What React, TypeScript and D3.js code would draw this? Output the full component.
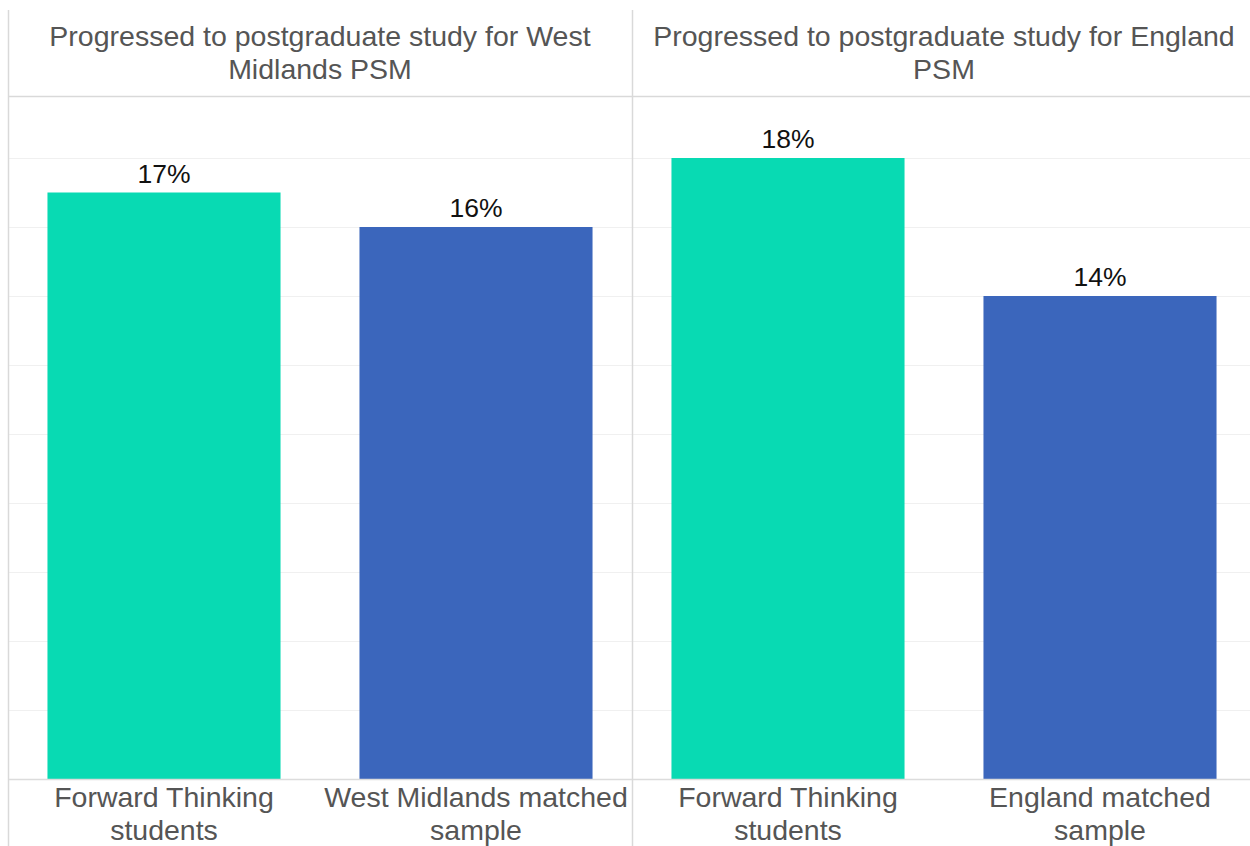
import React from "react";
import * as d3 from "d3";

const panelTitles: string[][] = [
  ["Progressed to postgraduate study for West", "Midlands PSM"],
  ["Progressed to postgraduate study for England", "PSM"],
];
const panelCategories: string[][] = [
  ["Forward Thinking students", "West Midlands matched sample"],
  ["Forward Thinking students", "England matched sample"],
];
const categoryLabelLines: string[][][] = [
  [["Forward Thinking", "students"], ["West Midlands matched", "sample"]],
  [["Forward Thinking", "students"], ["England matched", "sample"]],
];
const panelValues: number[][] = [
  [17, 16],
  [18, 14],
];
const gridTicks: number[] = [2, 4, 6, 8, 10, 12, 14, 16, 18];
const barColors: string[] = ["#08DAB3", "#3B66BC"];

const W = 1250;
const H = 846;
const FONT = "'Liberation Sans', Arial, sans-serif";

export default function App() {
  const left = 8;
  const panelW = 624;
  const headerBottom = 96;
  const baseY = 779;
  const y = d3.scaleLinear().domain([0, 20]).range([baseY, baseY - 690]);

  return (
    <svg
      width={W}
      height={H}
      style={{ position: "absolute", left: 0, top: 0, background: "#fff" }}
      fontFamily={FONT}
    >
      {gridTicks.map((t) => (
        <line
          key={t}
          x1={left}
          x2={W}
          y1={Math.round(y(t)) + 0.5}
          y2={Math.round(y(t)) + 0.5}
          stroke="#f0f0f0"
          strokeWidth={1}
        />
      ))}
      {panelValues.map((vals, pi) => {
        const x0 = left + pi * panelW;
        const x = d3
          .scaleBand<string>()
          .domain(panelCategories[pi])
          .range([x0, x0 + panelW])
          .paddingInner(0.253)
          .paddingOuter(0.1265);
        const cx = x0 + panelW / 2;
        return (
          <g key={pi}>
            {panelTitles[pi].map((line, li) => (
              <text
                key={li}
                x={cx}
                y={46 + li * 33}
                textAnchor="middle"
                fontSize={28.5}
                fill="#555"
              >
                {line}
              </text>
            ))}
            {vals.map((v, i) => {
              const cat = panelCategories[pi][i];
              const bx = x(cat)!;
              const bw = x.bandwidth();
              return (
                <g key={i}>
                  <rect
                    x={bx}
                    y={y(v)}
                    width={bw}
                    height={baseY - y(v)}
                    fill={barColors[i]}
                  />
                  <text
                    x={bx + bw / 2}
                    y={y(v) - 10}
                    textAnchor="middle"
                    fontSize={26.5}
                    fill="#111"
                  >
                    {`${v}%`}
                  </text>
                  {categoryLabelLines[pi][i].map((line, li) => (
                    <text
                      key={li}
                      x={bx + bw / 2}
                      y={807 + li * 33}
                      textAnchor="middle"
                      fontSize={28.5}
                      fill="#555"
                    >
                      {line}
                    </text>
                  ))}
                </g>
              );
            })}
          </g>
        );
      })}
      <line x1={left} x2={W} y1={headerBottom + 0.5} y2={headerBottom + 0.5} stroke="#d9d9d9" strokeWidth={1.5} />
      <line x1={left} x2={W} y1={baseY + 0.5} y2={baseY + 0.5} stroke="#dcdcdc" strokeWidth={1.5} />
      <line x1={left + 0.5} x2={left + 0.5} y1={10} y2={H} stroke="#d9d9d9" strokeWidth={1.5} />
      <line x1={left + panelW + 0.5} x2={left + panelW + 0.5} y1={10} y2={H} stroke="#d9d9d9" strokeWidth={1.5} />
    </svg>
  );
}
